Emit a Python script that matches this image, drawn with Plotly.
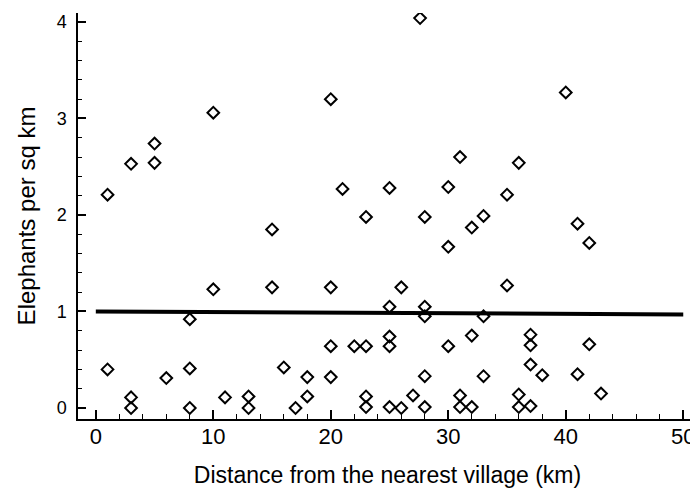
import plotly.graph_objects as go

# Observed densities grouped by distance (km)
distance_km = [
    1, 1,
    3, 3, 3,
    5, 5,
    6,
    8, 8, 8,
    10, 10,
    11,
    13, 13,
    15, 15,
    16,
    17,
    18, 18,
    20, 20, 20, 20,
    21,
    22,
    23, 23, 23, 23,
    25, 25, 25, 25, 25,
    26, 26,
    27,
    27.6,
    28, 28, 28, 28, 28,
    30, 30, 30,
    31, 31, 31,
    32, 32, 32,
    33, 33, 33,
    35, 35,
    36, 36, 36,
    37, 37, 37, 37,
    38,
    40,
    41, 41,
    42, 42,
    43,
]
elephants_per_sqkm = [
    2.21, 0.40,
    2.53, 0.11, 0.00,
    2.74, 2.54,
    0.31,
    0.92, 0.41, 0.00,
    3.06, 1.23,
    0.11,
    0.12, 0.00,
    1.85, 1.25,
    0.42,
    0.00,
    0.32, 0.12,
    3.20, 1.25, 0.64, 0.32,
    2.27,
    0.64,
    1.98, 0.64, 0.12, 0.01,
    2.28, 1.05, 0.74, 0.64, 0.01,
    1.25, 0.00,
    0.13,
    4.04,
    1.98, 1.05, 0.95, 0.33, 0.01,
    2.29, 1.67, 0.64,
    2.60, 0.13, 0.01,
    1.87, 0.75, 0.01,
    1.99, 0.95, 0.33,
    2.21, 1.27,
    2.54, 0.14, 0.01,
    0.76, 0.65, 0.45, 0.02,
    0.34,
    3.27,
    1.91, 0.35,
    1.71, 0.66,
    0.15,
]

fit_x = [0, 50]
fit_y = [1.00, 0.97]

x_ticks = [0, 10, 20, 30, 40, 50]
y_ticks = [0, 1, 2, 3, 4]

FONT = "Liberation Sans, Arial, sans-serif"

fig = go.Figure()
fig.add_trace(go.Scatter(
    x=fit_x, y=fit_y, mode="lines",
    line=dict(color="black", width=4),
    showlegend=False, hoverinfo="skip",
))
fig.add_trace(go.Scatter(
    x=distance_km, y=elephants_per_sqkm, mode="markers",
    marker=dict(symbol="diamond-open", size=9, color="black",
                line=dict(color="black", width=2)),
    showlegend=False,
))

# page body has an 8px margin, so the figure is sized to fill the rest
fig.update_layout(
    width=690, height=480,
    margin=dict(l=70, r=1, t=5, b=69),
    plot_bgcolor="white", paper_bgcolor="white",
    font=dict(family=FONT, color="black", size=18),
)
fig.update_xaxes(
    range=[-1.515, 51.17],
    tickvals=x_ticks, ticktext=[str(v) for v in x_ticks],
    showgrid=False, zeroline=False, automargin=False,
    showline=True, linecolor="black", linewidth=1.5,
    ticks="inside", ticklen=9, tickwidth=1.5, tickcolor="black",
    minor=dict(ticks="inside", ticklen=5, tickwidth=1.2, tickcolor="black", dtick=2, tick0=0, showgrid=False),
    ticklabelstandoff=-3,
    tickfont=dict(size=22),
    title=dict(text="Distance from the nearest village (km)", font=dict(size=23), standoff=24),
)
fig.update_yaxes(
    range=[-0.114, 4.093],
    tickvals=y_ticks, ticktext=[str(v) for v in y_ticks],
    showgrid=False, zeroline=False, automargin=False,
    showline=True, linecolor="black", linewidth=1.5,
    ticks="inside", ticklen=8, tickwidth=1.5, tickcolor="black",
    minor=dict(ticks="inside", ticklen=4, tickwidth=1.2, tickcolor="black", dtick=0.2, tick0=0, showgrid=False),
    ticklabelstandoff=6,
    tickfont=dict(size=18),
    title=dict(text="Elephants per sq km", font=dict(size=24), standoff=14),
)

fig.write_html("out.html")
